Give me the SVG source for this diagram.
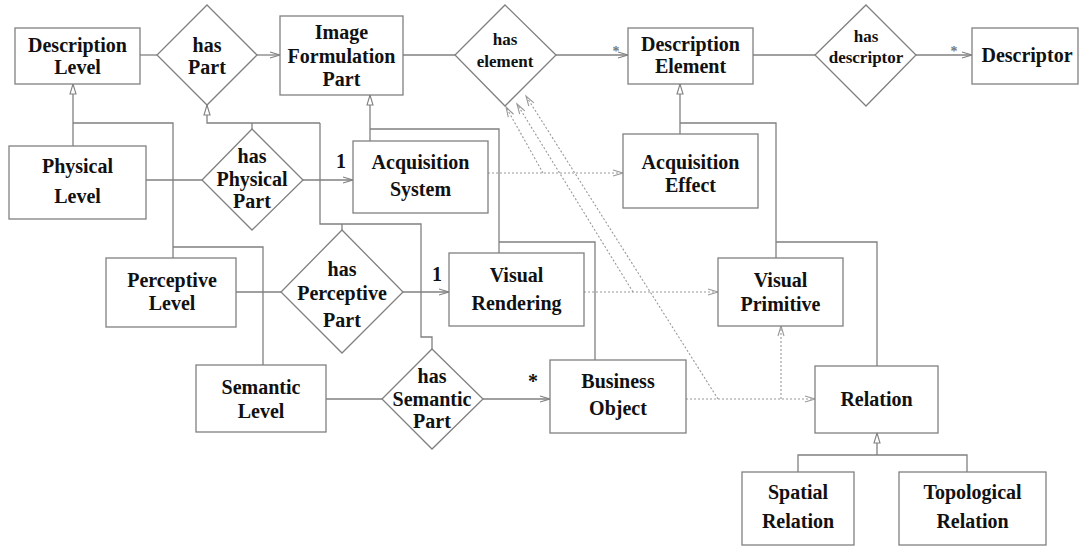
<svg xmlns="http://www.w3.org/2000/svg" width="1080" height="547" viewBox="0 0 1080 547">
<style>
.box{fill:#fff;stroke:#808080;stroke-width:1.3}
.ln{fill:none;stroke:#808080;stroke-width:1.3}
.dl{fill:none;stroke:#999;stroke-width:1.1;stroke-dasharray:2,2}
text{font-family:"Liberation Serif","Times New Roman",serif;font-weight:bold;font-size:20px;fill:#111;text-anchor:middle}
.sm{font-size:17px}
.ast{font-size:14px;fill:#777}
</style>
<defs>
<marker id="gen" markerUnits="userSpaceOnUse" markerWidth="14" markerHeight="10" refX="0" refY="0" orient="auto" viewBox="-12 -5 14 10" overflow="visible">
<path d="M0,0 L-10,-3 L-10,3 Z" fill="#fff" stroke="#808080" stroke-width="1.1"/>
</marker>
<marker id="arr" markerUnits="userSpaceOnUse" markerWidth="14" markerHeight="10" refX="0" refY="0" orient="auto" viewBox="-12 -5 14 10" overflow="visible">
<path d="M-10,-3 L0,0 L-10,3" fill="none" stroke="#808080" stroke-width="1.1"/>
</marker>
<marker id="darr" markerUnits="userSpaceOnUse" markerWidth="14" markerHeight="10" refX="0" refY="0" orient="auto" viewBox="-12 -5 14 10" overflow="visible">
<path d="M-10,-3 L0,0 L-10,3" fill="none" stroke="#999" stroke-width="1.1"/>
</marker>
</defs>
<rect width="1080" height="547" fill="#fff"/>
<g id="connectors">
<path class="ln" d="M73,146 V84" marker-end="url(#gen)"/>
<path class="ln" d="M73,123 H173 V258"/>
<path class="ln" d="M173,247 H263 V365"/>
<path class="ln" d="M252,129 V123"/>
<path class="ln" d="M320,123 H207 V105" marker-end="url(#gen)"/>
<path class="ln" d="M320,123 V224 H421 V337 H432 V349"/>
<path class="ln" d="M342,230 V224"/>
<path class="ln" d="M370,141 V95" marker-end="url(#gen)"/>
<path class="ln" d="M370,129 H499 V253"/>
<path class="ln" d="M499,242 H595 V360"/>
<path class="ln" d="M680,134 V84" marker-end="url(#gen)"/>
<path class="ln" d="M680,123 H776 V258"/>
<path class="ln" d="M776,242 H877 V366"/>
<path class="ln" d="M798,472 V455 H967 V472"/>
<path class="ln" d="M877,455 V433" marker-end="url(#gen)"/>
<path class="ln" d="M140,55 H157"/>
<path class="ln" d="M257,55 H280" marker-end="url(#arr)"/>
<path class="ln" d="M403,55 H455"/>
<path class="ln" d="M556,55 H628" marker-end="url(#arr)"/>
<path class="ln" d="M753,55 H815"/>
<path class="ln" d="M916,55 H972" marker-end="url(#arr)"/>
<path class="ln" d="M146,180 H202"/>
<path class="ln" d="M303,180 H353" marker-end="url(#arr)"/>
<path class="ln" d="M236,292 H281"/>
<path class="ln" d="M403,292 H449" marker-end="url(#arr)"/>
<path class="ln" d="M326,399 H382"/>
<path class="ln" d="M483,399 H550" marker-end="url(#arr)"/>
<path class="dl" d="M488,173 H623" marker-end="url(#darr)"/>
<path class="dl" d="M584,292 H718" marker-end="url(#darr)"/>
<path class="dl" d="M686,399 H815" marker-end="url(#darr)"/>
<path class="dl" d="M781,399 V326" marker-end="url(#darr)"/>
<path class="dl" d="M543,173 L506,107" marker-end="url(#darr)"/>
<path class="dl" d="M633,292 L517,104" marker-end="url(#darr)"/>
<path class="dl" d="M718,399 L526,96" marker-end="url(#darr)"/>
<text class="ast" x="616" y="55.5">*</text>
<text class="ast" x="954" y="55.5">*</text>
<text x="533" y="388">*</text>
<text x="341" y="168">1</text>
<text x="437" y="281">1</text>
</g>
<g id="description-level"><rect class="box" x="15" y="28" width="125" height="56"/><text x="77.5" y="51.5">Description</text><text x="77.5" y="73.5">Level</text></g>
<g id="has-part"><path class="box" d="M207,5 L257,55 L207,105 L157,55 Z"/><text x="207" y="51.5">has</text><text x="207" y="73.5">Part</text></g>
<g id="image-formulation-part"><rect class="box" x="280" y="16" width="123" height="79"/><text x="341.5" y="39">Image</text><text x="341.5" y="62.5">Formulation</text><text x="341.5" y="86">Part</text></g>
<g id="has-element"><path class="box" d="M505,5 L556,55 L505,106 L455,55 Z"/><text class="sm" x="505" y="45">has</text><text class="sm" x="505" y="66.5">element</text></g>
<g id="description-element"><rect class="box" x="628" y="28" width="125" height="56"/><text x="690.5" y="51">Description</text><text x="690.5" y="73">Element</text></g>
<g id="has-descriptor"><path class="box" d="M866,5 L916,55 L866,106 L815,55 Z"/><text class="sm" x="866" y="42">has</text><text class="sm" x="866" y="62.5">descriptor</text></g>
<g id="descriptor"><rect class="box" x="972" y="28" width="106" height="56"/><text x="1027" y="62">Descriptor</text></g>
<g id="physical-level"><rect class="box" x="9" y="146" width="137" height="73"/><text x="77.5" y="173">Physical</text><text x="77.5" y="203">Level</text></g>
<g id="has-physical-part"><path class="box" d="M252,129 L303,180 L252,230 L202,180 Z"/><text x="252" y="163">has</text><text x="252" y="185.5">Physical</text><text x="252" y="208">Part</text></g>
<g id="acquisition-system"><rect class="box" x="353" y="141" width="135" height="72"/><text x="420.5" y="169">Acquisition</text><text x="420.5" y="196">System</text></g>
<g id="acquisition-effect"><rect class="box" x="623" y="134" width="135" height="74"/><text x="690.5" y="169">Acquisition</text><text x="690.5" y="192">Effect</text></g>
<g id="perceptive-level"><rect class="box" x="106" y="258" width="130" height="69"/><text x="172" y="286.5">Perceptive</text><text x="172" y="310">Level</text></g>
<g id="has-perceptive-part"><path class="box" d="M342,230 L403,292 L342,353 L281,292 Z"/><text x="342" y="276">has</text><text x="342" y="300">Perceptive</text><text x="342" y="327">Part</text></g>
<g id="visual-rendering"><rect class="box" x="449" y="253" width="135" height="73"/><text x="516.5" y="281.5">Visual</text><text x="516.5" y="310">Rendering</text></g>
<g id="visual-primitive"><rect class="box" x="718" y="258" width="125" height="68"/><text x="780.5" y="287">Visual</text><text x="780.5" y="310.5">Primitive</text></g>
<g id="semantic-level"><rect class="box" x="196" y="365" width="130" height="67"/><text x="261" y="394">Semantic</text><text x="261" y="418">Level</text></g>
<g id="has-semantic-part"><path class="box" d="M432,349 L483,399 L432,449 L382,399 Z"/><text x="432" y="382.5">has</text><text x="432" y="406">Semantic</text><text x="432" y="428">Part</text></g>
<g id="business-object"><rect class="box" x="550" y="360" width="136" height="73"/><text x="618" y="388">Business</text><text x="618" y="415">Object</text></g>
<g id="relation"><rect class="box" x="815" y="366" width="123" height="67"/><text x="876.5" y="406">Relation</text></g>
<g id="spatial-relation"><rect class="box" x="742" y="472" width="112" height="73"/><text x="798" y="499">Spatial</text><text x="798" y="528">Relation</text></g>
<g id="topological-relation"><rect class="box" x="899" y="472" width="147" height="73"/><text x="972.5" y="499">Topological</text><text x="972.5" y="528">Relation</text></g>
</svg>
